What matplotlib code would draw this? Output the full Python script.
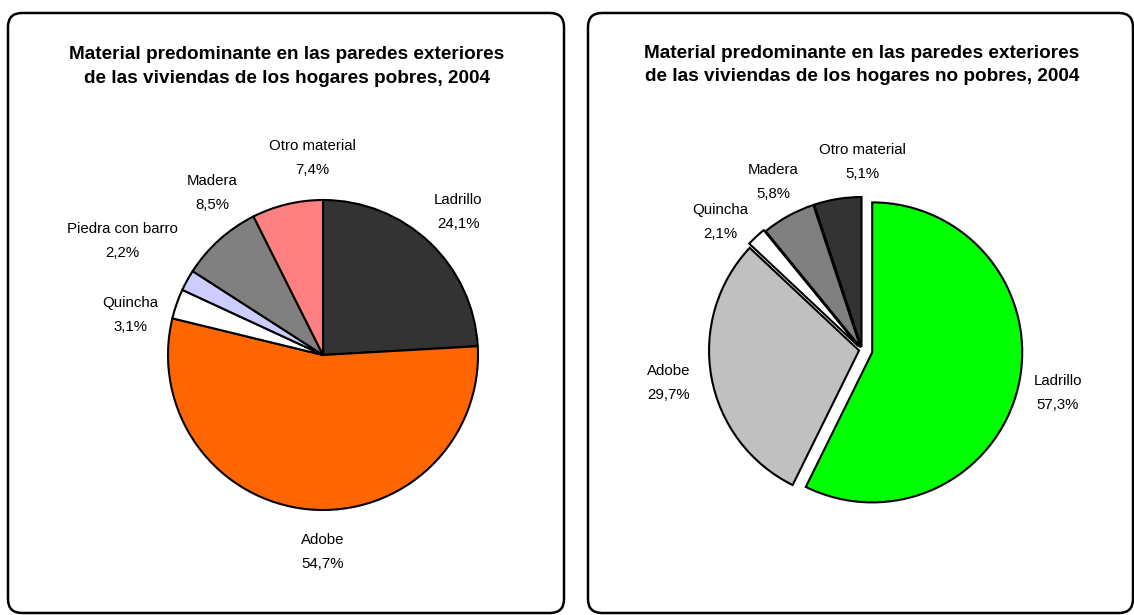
import matplotlib
matplotlib.use("Agg")
import matplotlib.pyplot as plt
from matplotlib.patches import FancyBboxPatch

# ---- data ----
left_title = "Material predominante en las paredes exteriores\nde las viviendas de los hogares pobres, 2004"
left_labels = ["Ladrillo", "Adobe", "Quincha", "Piedra con barro", "Madera", "Otro material"]
left_values = [24.1, 54.7, 3.1, 2.2, 8.5, 7.4]
left_colors = ["#333333", "#FF6600", "#FFFFFF", "#CCCCFF", "#808080", "#FF8080"]

right_title = "Material predominante en las paredes exteriores\nde las viviendas de los hogares no pobres, 2004"
right_labels = ["Ladrillo", "Adobe", "Quincha", "Madera", "Otro material"]
right_values = [57.3, 29.7, 2.1, 5.8, 5.1]
right_colors = ["#00FF00", "#C0C0C0", "#FFFFFF", "#808080", "#333333"]
right_explode = [10.5, 3, 5, 3, 3]

W, H = 1134, 615
fig = plt.figure(figsize=(W / 100, H / 100), dpi=100)
ax = fig.add_axes([0, 0, 1, 1])

label_font = dict(family=["Liberation Sans Narrow", "Liberation Sans", "DejaVu Sans"], size=10.8)
title_font = dict(family=["Liberation Sans", "DejaVu Sans"], size=13.7, weight="bold")

def py(y):
    return H - y

# panels
for x0, x1 in [(8, 564), (588, 1133)]:
    box = FancyBboxPatch((x0 + 14, py(613) + 14), (x1 - x0) - 28, (613 - 13) - 28,
                         boxstyle="round,pad=14", linewidth=1.8,
                         edgecolor="black", facecolor="white", zorder=0)
    ax.add_patch(box)

# left pie
ax.pie(left_values, colors=left_colors, startangle=90, counterclock=False,
       center=(323, py(355)), radius=155, frame=True,
       wedgeprops=dict(edgecolor="black", linewidth=1.5))

# right pie
ax.pie(right_values, colors=right_colors, startangle=90, counterclock=False,
       explode=right_explode,
       center=(862, py(350)), radius=150, frame=True,
       wedgeprops=dict(edgecolor="black", linewidth=1.5))

ax.set_xlim(0, W)
ax.set_ylim(0, H)
ax.set_aspect("equal")
ax.axis("off")

# titles
ax.text(287, py(66.5), left_title, ha="center", va="center", linespacing=1.5, **title_font)
ax.text(862, py(65), right_title, ha="center", va="center", linespacing=1.5, **title_font)

def fmt(v):
    return f"{v:.1f}".replace(".", ",") + "%"

left_pos = [(458, 212), (323, 552), (130, 315), (122, 241), (212, 193), (312, 158)]
for lab, v, (x, y) in zip(left_labels, left_values, left_pos):
    ax.text(x, py(y), f"{lab}\n{fmt(v)}", ha="center", va="center", linespacing=1.85, **label_font)

right_pos = [(1058, 393), (669, 383), (720, 222), (773, 182), (862, 162)]
for lab, v, (x, y) in zip(right_labels, right_values, right_pos):
    ax.text(x, py(y), f"{lab}\n{fmt(v)}", ha="center", va="center", linespacing=1.85, **label_font)

fig.savefig("out.png", dpi=100)
